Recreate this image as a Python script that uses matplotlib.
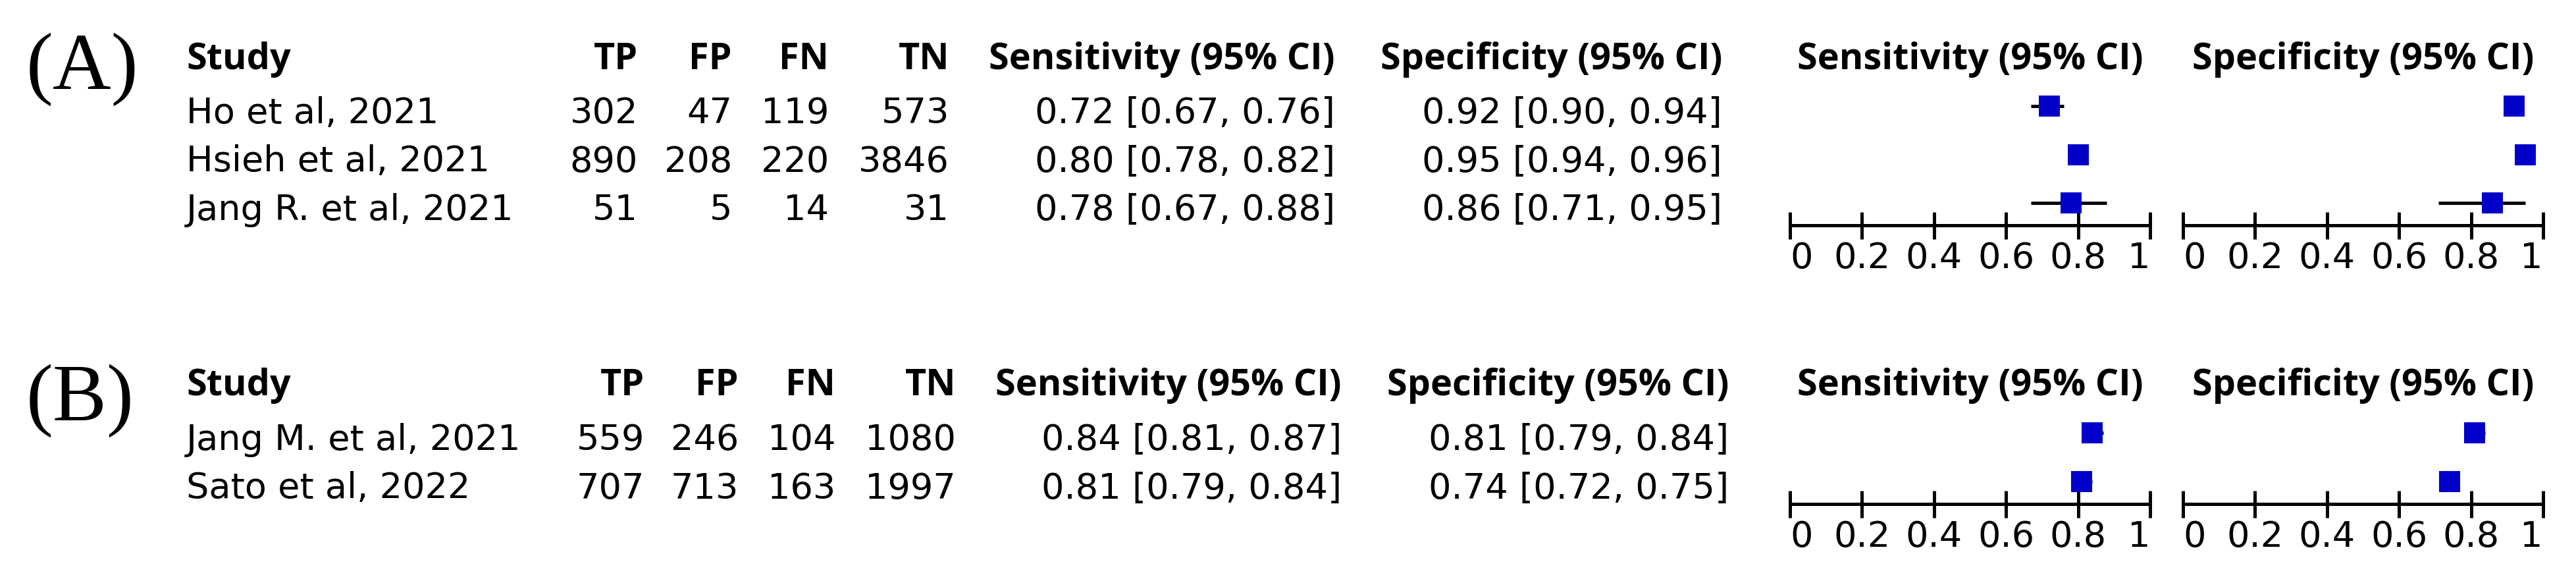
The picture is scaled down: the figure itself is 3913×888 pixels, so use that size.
import numpy as np
import matplotlib
matplotlib.use("Agg")
import matplotlib.pyplot as plt
from matplotlib.transforms import Affine2D
from matplotlib import font_manager as fm

# ---------------- data ----------------
headers = ["Study", "TP", "FP", "FN", "TN", "Sensitivity (95% CI)", "Specificity (95% CI)"]
forest_headers = ["Sensitivity (95% CI)", "Specificity (95% CI)"]
panel_labels = ["(A)", "(B)"]

studies_a = ["Ho et al, 2021", "Hsieh et al, 2021", "Jang R. et al, 2021"]
tp_a = [302, 890, 51]
fp_a = [47, 208, 5]
fn_a = [119, 220, 14]
tn_a = [573, 3846, 31]
sens_a = [0.72, 0.80, 0.78]
sens_lo_a = [0.67, 0.78, 0.67]
sens_hi_a = [0.76, 0.82, 0.88]
spec_a = [0.92, 0.95, 0.86]
spec_lo_a = [0.90, 0.94, 0.71]
spec_hi_a = [0.94, 0.96, 0.95]

studies_b = ["Jang M. et al, 2021", "Sato et al, 2022"]
tp_b = [559, 707]
fp_b = [246, 713]
fn_b = [104, 163]
tn_b = [1080, 1997]
sens_b = [0.84, 0.81]
sens_lo_b = [0.81, 0.79]
sens_hi_b = [0.87, 0.84]
spec_b = [0.81, 0.74]
spec_lo_b = [0.79, 0.72]
spec_hi_b = [0.84, 0.75]

axis_ticks = [0, 0.2, 0.4, 0.6, 0.8, 1]
axis_tick_labels = ["0", "0.2", "0.4", "0.6", "0.8", "1"]

# ---------------- layout / style ----------------
W, H, DPI = 3913, 888, 300
FONT = "DejaVu Sans"
FS = 13.0
FS_BOLD = 13.4
BLUE = "#0000C8"
PITCH = 73.5
LW = 1.2


def pick_bold():
    for fam in ["Noto Sans", "Open Sans", "Lato", "Roboto", "Liberation Sans", "DejaVu Sans"]:
        try:
            path = fm.findfont(fm.FontProperties(family=fam, weight="bold"), fallback_to_default=False)
        except Exception:
            continue
        try:
            f = fm.get_font(path)
            style = (f.style_name or "").lower()
        except Exception:
            style = path.lower()
        if "bold" in style or "bold" in path.lower():
            return fam
    return "DejaVu Sans"


BOLD_FONT = pick_bold()

fig = plt.figure(figsize=(W / DPI, H / DPI), dpi=DPI)
fig.patch.set_facecolor("white")
PX = Affine2D().scale(1 / W, -1 / H).translate(0, 1) + fig.transFigure


def put(x, y, s, ha="left", bold=False):
    fig.text(x, y, s, transform=PX, ha=ha, va="baseline",
             fontsize=FS_BOLD if bold else FS,
             fontweight="bold" if bold else "normal",
             family=BOLD_FONT if bold else FONT, color="black")


def forest(x0, x1, first_c, axis_y, est, lo, hi):
    est = np.asarray(est); lo = np.asarray(lo); hi = np.asarray(hi)
    n = len(est)
    top = first_c - 45
    ax = fig.add_axes([x0 / W, 1 - axis_y / H, (x1 - x0) / W, (axis_y - top) / H])
    ax.set_xlim(0, 1)
    ax.set_ylim((axis_y - first_c) / PITCH, (top - first_c) / PITCH)
    rows = np.arange(n)
    ax.errorbar(est, rows, xerr=[est - lo, hi - est], fmt="none", ecolor="black",
                elinewidth=LW, capsize=0, clip_on=False, zorder=2)
    ax.plot(est, rows, ls="none", marker="s", ms=7.68, mfc=BLUE, mec=BLUE, mew=0,
            clip_on=False, zorder=3)
    for side in ("left", "right", "top"):
        ax.spines[side].set_visible(False)
    ax.spines["bottom"].set_linewidth(LW)
    ax.set_yticks([])
    ax.set_xticks(axis_ticks)
    ax.set_xticklabels(axis_tick_labels, fontsize=FS, family=FONT)
    ax.tick_params(axis="x", direction="inout", length=9.84, width=LW, pad=0.8)
    labels = ax.get_xticklabels()
    labels[0].set_ha("left")
    labels[-1].set_ha("right")
    ax.patch.set_visible(False)
    return ax


def fmt(v, l, h):
    return f"{v:.2f} [{l:.2f}, {h:.2f}]"


panels = [
    dict(label=panel_labels[0], label_base=135, head_base=105, first_base=187, first_c=161, axis_y=342,
         shift=0, studies=studies_a, tp=tp_a, fp=fp_a, fn=fn_a, tn=tn_a,
         sens=(sens_a, sens_lo_a, sens_hi_a), spec=(spec_a, spec_lo_a, spec_hi_a)),
    dict(label=panel_labels[1], label_base=638, head_base=600, first_base=683, first_c=657, axis_y=765,
         shift=10, studies=studies_b, tp=tp_b, fp=fp_b, fn=fn_b, tn=tn_b,
         sens=(sens_b, sens_lo_b, sens_hi_b), spec=(spec_b, spec_lo_b, spec_hi_b)),
]

STUDY_X = 283
COL_RIGHT = [969, 1112, 1259, 1442, 2028, 2616]
SENS_AX = (2719, 3266)
SPEC_AX = (3316, 3863)

for p in panels:
    fig.text(40, p["label_base"], p["label"], transform=PX, ha="left", va="baseline",
             fontsize=29.5, family="Liberation Serif", color="black")
    s = p["shift"]
    hb = p["head_base"]
    put(STUDY_X, hb, headers[0], bold=True)
    for h, xr in zip(headers[1:], COL_RIGHT):
        put(xr + s, hb, h, ha="right", bold=True)
    put((SENS_AX[0] + SENS_AX[1]) / 2, hb, forest_headers[0], ha="center", bold=True)
    put((SPEC_AX[0] + SPEC_AX[1]) / 2, hb, forest_headers[1], ha="center", bold=True)
    for i, name in enumerate(p["studies"]):
        y = p["first_base"] + PITCH * i
        put(STUDY_X, y, name)
        cells = [str(p["tp"][i]), str(p["fp"][i]), str(p["fn"][i]), str(p["tn"][i]),
                 fmt(p["sens"][0][i], p["sens"][1][i], p["sens"][2][i]),
                 fmt(p["spec"][0][i], p["spec"][1][i], p["spec"][2][i])]
        for c, xr in zip(cells, COL_RIGHT):
            put(xr + s, y, c, ha="right")
    forest(SENS_AX[0], SENS_AX[1], p["first_c"], p["axis_y"], *p["sens"])
    forest(SPEC_AX[0], SPEC_AX[1], p["first_c"], p["axis_y"], *p["spec"])

fig.savefig("out.png", dpi=DPI, facecolor="white")
